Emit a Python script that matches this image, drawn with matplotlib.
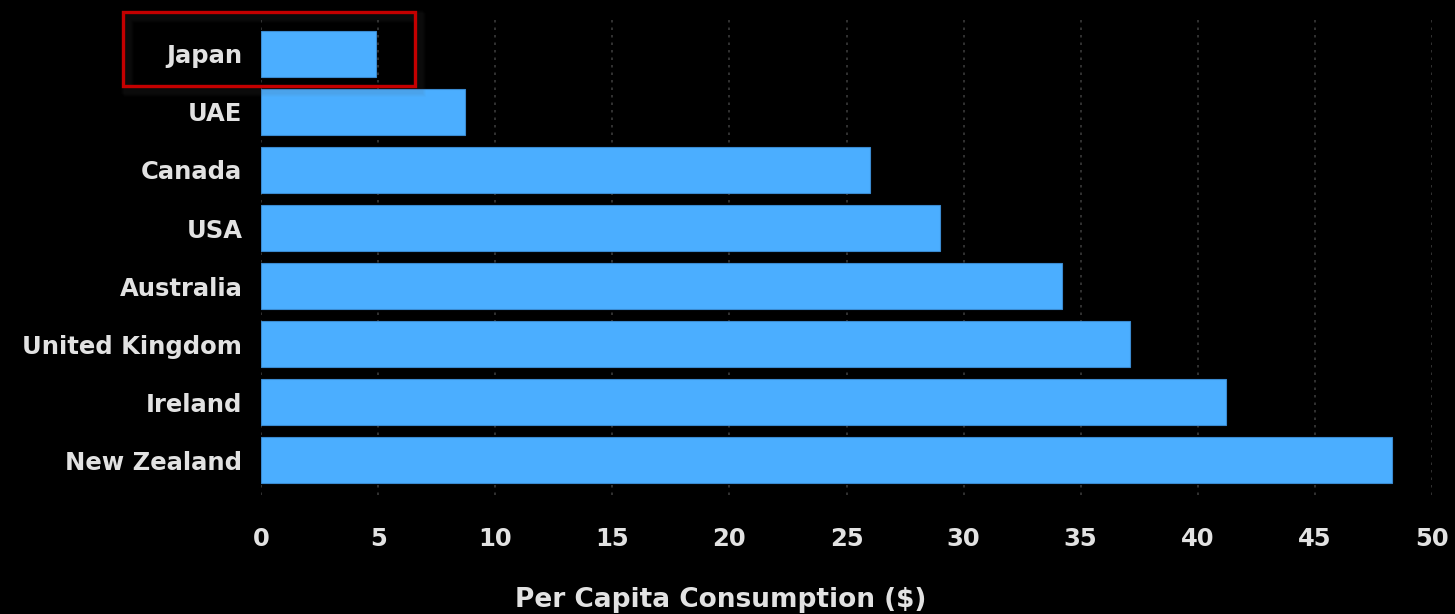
import matplotlib.pyplot as plt
from matplotlib.patches import Rectangle

countries = ['Japan', 'UAE', 'Canada', 'USA', 'Australia', 'United Kingdom', 'Ireland', 'New Zealand']
consumption = [4.9, 8.7, 26.0, 29.0, 34.2, 37.1, 41.2, 48.3]
x_ticks = [0, 5, 10, 15, 20, 25, 30, 35, 40, 45, 50]

bar_color = '#4baeff'
text_color = '#e2e2e2'

plt.rcParams['font.family'] = 'DejaVu Sans'

fig = plt.figure(figsize=(14.55, 6.14), dpi=100, facecolor='black')
ax = fig.add_axes([0.1794, 0.194, 0.8048, 0.78])
ax.set_facecolor('black')

ax.barh(countries, consumption, height=0.78, color=bar_color,
        edgecolor='#3a8ad0', linewidth=0.8, zorder=2)

ax.set_xlim(0, 50)
ax.set_ylim(7.6, -0.655)
ax.set_xticks(x_ticks)
ax.set_xticklabels([str(t) for t in x_ticks])

ax.grid(axis='x', color='#3a3a3a', linestyle=(0, (1.5, 3)), linewidth=1.2, zorder=0)
ax.grid(axis='y', visible=False)
for side in ax.spines.values():
    side.set_visible(False)
ax.tick_params(axis='both', length=0, colors=text_color, labelsize=17.5)
ax.tick_params(axis='y', pad=13.5)
ax.tick_params(axis='x', pad=23)
for lbl in ax.get_xticklabels() + ax.get_yticklabels():
    lbl.set_fontweight('bold')

fig.text(0.4955, 0.0114, 'Per Capita Consumption ($)', color=text_color,
         fontsize=19, fontweight='bold', ha='center', va='baseline')

# highlight box around the first row, with a faint shadow
x0, y0, w, h = 123 / 1455, 1 - 86 / 614, 292 / 1455, 74 / 614
for i in range(4):
    off = (i + 3) / 1455
    fig.patches.append(Rectangle((x0 + off, y0 - off * 1455 / 614), w, h,
                                 transform=fig.transFigure, facecolor='none',
                                 edgecolor=(0.4, 0.4, 0.4, 0.03), linewidth=7, zorder=5))
fig.patches.append(Rectangle((x0, y0), w, h, transform=fig.transFigure,
                             facecolor='none', edgecolor='#c40000', linewidth=2.4, zorder=6))

fig.savefig('out.png', dpi=100, facecolor='black')
